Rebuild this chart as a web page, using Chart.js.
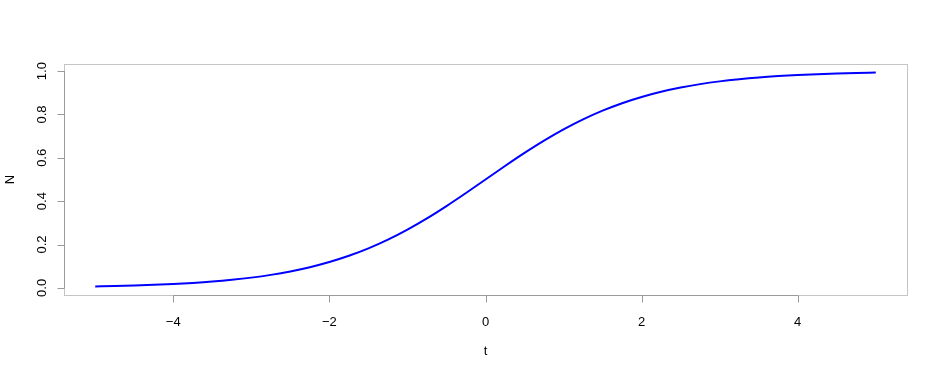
<!DOCTYPE html>
<html>
<head>
<meta charset="utf-8">
<script src="https://cdn.jsdelivr.net/npm/chart.js@4"></script>
<style>
html,body{margin:0;padding:0;background:#fff;}
#wrap{width:941px;height:377px;}
</style>
</head>
<body>
<div id="wrap"><canvas id="c" width="941" height="377"></canvas></div>
<script>
const tValues = [-5,-4.75,-4.5,-4.25,-4,-3.75,-3.5,-3.25,-3,-2.75,-2.5,-2.25,-2,-1.75,-1.5,-1.25,-1,-0.75,-0.5,-0.25,0,0.25,0.5,0.75,1,1.25,1.5,1.75,2,2.25,2.5,2.75,3,3.25,3.5,3.75,4,4.25,4.5,4.75,5];
const nValues = [0.0067,0.0086,0.0110,0.0140,0.0180,0.0230,0.0293,0.0374,0.0474,0.0601,0.0759,0.0953,0.1192,0.1480,0.1824,0.2227,0.2689,0.3208,0.3775,0.4378,0.5,0.5622,0.6225,0.6792,0.7311,0.7773,0.8176,0.8520,0.8808,0.9047,0.9241,0.9399,0.9526,0.9626,0.9707,0.9770,0.9820,0.9860,0.9890,0.9914,0.9933];
const xTicks = [-4,-2,0,2,4];
const xTickLabels = ["\u22124","\u22122","0","2","4"];
const yTicks = [0,0.2,0.4,0.6,0.8,1.0];
const yTickLabels = ["0.0","0.2","0.4","0.6","0.8","1.0"];
const xTitle = "t";
const yTitle = "N";

const FONT = '13px "Liberation Sans", Arial, sans-serif';

const axesPlugin = {
  id: 'rAxes',
  afterDraw(chart) {
    const ctx = chart.ctx;
    const a = chart.chartArea;
    const xs = chart.scales.x, ys = chart.scales.y;
    ctx.save();
    // box
    ctx.strokeStyle = '#c4c4c4';
    ctx.lineWidth = 1;
    ctx.strokeRect(Math.round(a.left)+0.5, Math.round(a.top)+0.5, Math.round(a.right-a.left), Math.round(a.bottom-a.top));
    // x axis
    ctx.strokeStyle = '#9a9a9a';
    const yb = Math.round(a.bottom)+0.5;
    ctx.beginPath();
    ctx.moveTo(xs.getPixelForValue(xTicks[0]), yb);
    ctx.lineTo(xs.getPixelForValue(xTicks[xTicks.length-1]), yb);
    xTicks.forEach(v => {
      const px = Math.round(xs.getPixelForValue(v))+0.5;
      ctx.moveTo(px, yb); ctx.lineTo(px, yb+7);
    });
    ctx.stroke();
    // y axis
    const xl = Math.round(a.left)+0.5;
    ctx.beginPath();
    ctx.moveTo(xl, ys.getPixelForValue(yTicks[0]));
    ctx.lineTo(xl, ys.getPixelForValue(yTicks[yTicks.length-1]));
    yTicks.forEach(v => {
      const py = Math.round(ys.getPixelForValue(v))+0.5;
      ctx.moveTo(xl, py); ctx.lineTo(xl-7, py);
    });
    ctx.stroke();
    // labels
    ctx.fillStyle = '#000';
    ctx.font = FONT;
    ctx.textAlign = 'center';
    ctx.textBaseline = 'middle';
    xTicks.forEach((v,i) => {
      ctx.fillText(xTickLabels[i], xs.getPixelForValue(v), a.bottom + 27);
    });
    ctx.fillText(xTitle, (a.left+a.right)/2, a.bottom + 56);
    yTicks.forEach((v,i) => {
      ctx.save();
      ctx.translate(a.left - 22, ys.getPixelForValue(v));
      ctx.rotate(-Math.PI/2);
      ctx.fillText(yTickLabels[i], 0, 0);
      ctx.restore();
    });
    ctx.save();
    ctx.translate(a.left - 54, (a.top+a.bottom)/2);
    ctx.rotate(-Math.PI/2);
    ctx.fillText(yTitle, 0, 0);
    ctx.restore();
    ctx.restore();
  }
};

const yMinData = 0.0067, yMaxData = 0.9933;
const yPad = (yMaxData - yMinData) * 0.04;

new Chart(document.getElementById('c'), {
  type: 'line',
  data: {
    datasets: [{
      data: tValues.map((t,i) => ({x: t, y: nValues[i]})),
      borderColor: '#0000ff',
      borderWidth: 2,
      pointRadius: 0,
      fill: false,
      cubicInterpolationMode: 'monotone'
    }]
  },
  options: {
    responsive: false,
    animation: false,
    events: [],
    layout: { padding: { left: 64, top: 64, right: 34, bottom: 82 } },
    plugins: { legend: { display: false }, tooltip: { enabled: false } },
    scales: {
      x: { type: 'linear', display: false, min: -5.4, max: 5.4 },
      y: { type: 'linear', display: false, min: yMinData - yPad, max: yMaxData + yPad }
    }
  },
  plugins: [axesPlugin]
});
</script>
</body>
</html>
